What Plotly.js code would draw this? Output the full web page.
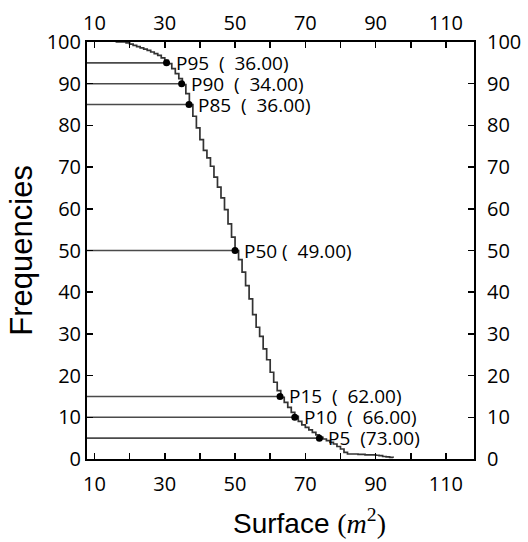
<!DOCTYPE html>
<html>
<head>
<meta charset="utf-8">
<script src="https://cdn.plot.ly/plotly-3.0.1.min.js"></script>
<style>
  html, body { margin: 0; padding: 0; background: #ffffff; }
  #chart { width: 528px; height: 542px; }
</style>
</head>
<body>
<div id="chart"></div>
<script>
// Surface values (m^2) and exceedance frequencies (%)
const surface = [16,17,18,19,20,21,22,23,24,25,26,27,28,29,30,31,32,33,34,35,36,37,38,39,40,
  41,42,43,44,45,46,47,48,49,50,51,52,53,54,55,56,57,58,59,60,61,62,63,64,65,66,67,68,69,70,
  71,72,73,74,75,76,77,78,79,80,81,82,83,84,85,86,87,88,89,90,91,92,93,94,95];
const frequency = [100,100,100,99.8,99.5,99.2,98.9,98.6,98.3,98.0,97.6,97.2,96.8,96.2,95.6,94.8,93.6,92.4,91.2,89.8,87.6,85.0,82.2,79.4,76.6,
  74.0,72.2,70.2,67.6,65.2,62.6,59.8,56.4,53.2,50.0,47.8,44.8,41.6,38.4,34.6,31.6,29.4,26.4,23.8,20.8,18.4,16.4,14.8,13.6,12.4,11.2,10.2,9.0,8.2,7.6,
  7.0,6.4,5.8,5.2,4.8,4.4,4.0,3.6,3.0,2.4,1.6,1.2,1.2,1.2,1.1,1.1,1.0,1.0,1.0,0.9,0.8,0.6,0.5,0.4,0.3];

// Percentile points (position on the curve) and their printed labels
const pctX = [30.5, 34.8, 36.9, 50.0, 62.8, 67.0, 74.0];
const pctY = [95, 90, 85, 50, 15, 10, 5];
const pctLabels = ["P95  (  36.00)", "P90  (  34.00)", "P85  (  36.00)", "P50 (  49.00)",
                   "P15  (  62.00)", "P10  (  66.00)", "P5  (73.00)"];

// Axis ticks
const xTickVals = [10,20,30,40,50,60,70,80,90,100,110];
const xTickText = ["10","","30","","50","","70","","90","","110"];
const yTickVals = [0,10,20,30,40,50,60,70,80,90,100];
const yTickText = ["0","10","20","30","40","50","60","70","80","90","100"];

const xRange = [7.87, 118];
const yRange = [0, 100];

const nb = s => s.replace(/ /g, "\u00A0");

// horizontal guide lines from left frame to each percentile point
const hx = [], hy = [];
pctX.forEach((x, i) => { hx.push(xRange[0], x, null); hy.push(pctY[i], pctY[i], null); });

const traces = [
  { x: hx, y: hy, mode: "lines", line: { color: "#4a4a4a", width: 1.6 },
    hoverinfo: "skip", showlegend: false, cliponaxis: false },
  { x: surface, y: frequency, mode: "lines", line: { color: "#333333", width: 1.7, shape: "hv" },
    showlegend: false },
  { x: pctX, y: pctY, mode: "markers", marker: { color: "#000000", size: 7 }, showlegend: false },
  { x: [xTickVals[0]], y: [yTickVals[0]], xaxis: "x2", yaxis: "y2", mode: "markers",
    marker: { opacity: 0 }, hoverinfo: "skip", showlegend: false }
];

const tickFont = { family: "Open Sans, sans-serif", size: 20, color: "#000000" };

const annotations = pctLabels.map((t, i) => ({
  x: pctX[i], y: pctY[i], xref: "x", yref: "y", text: nb(t), showarrow: false,
  xanchor: "left", yanchor: "middle", xshift: 7, yshift: 0,
  font: { family: "Open Sans, sans-serif", size: 19, color: "#000000" }
}));
annotations.push({
  xref: "paper", yref: "paper", x: -0.17, y: 0.5, text: "Frequencies", textangle: -90,
  showarrow: false, xanchor: "center", yanchor: "middle",
  font: { family: "Liberation Sans, Arial, sans-serif", size: 31, color: "#000000" }
});
annotations.push({
  xref: "paper", yref: "paper", x: 0.576, y: -0.151,
  text: 'Surface <span style="font-family:Liberation Serif, serif">(<i>m</i><sup>2</sup>)</span>',
  showarrow: false, xanchor: "center", yanchor: "middle",
  font: { family: "Liberation Sans, Arial, sans-serif", size: 28, color: "#000000" }
});

const layout = {
  width: 528, height: 542,
  margin: { l: 87, r: 54, t: 42, b: 83, pad: 0 },
  paper_bgcolor: "#ffffff", plot_bgcolor: "#ffffff",
  showlegend: false,
  xaxis: {
    range: xRange, tickmode: "array", tickvals: xTickVals, ticktext: xTickText,
    ticks: "inside", ticklen: 6, tickwidth: 1.5, tickcolor: "#000000",
    showline: true, linewidth: 2, linecolor: "#000000", mirror: "ticks",
    showgrid: false, zeroline: false, tickfont: tickFont, ticklabelstandoff: 6
  },
  xaxis2: {
    range: xRange, overlaying: "x", side: "top", anchor: "y2", tickmode: "array",
    tickvals: xTickVals, ticktext: xTickText, ticks: "", showline: false,
    showgrid: false, zeroline: false, tickfont: tickFont, ticklabelstandoff: 7
  },
  yaxis: {
    range: yRange, tickmode: "array", tickvals: yTickVals, ticktext: yTickText,
    ticks: "inside", ticklen: 6, tickwidth: 1.5, tickcolor: "#000000",
    showline: true, linewidth: 2, linecolor: "#000000", mirror: "ticks",
    showgrid: false, zeroline: false, tickfont: tickFont, ticklabelstandoff: 0
  },
  yaxis2: {
    range: yRange, overlaying: "y", side: "right", anchor: "x2", tickmode: "array",
    tickvals: yTickVals, ticktext: yTickText, ticks: "", showline: false,
    showgrid: false, zeroline: false, tickfont: tickFont, ticklabelstandoff: 12
  },
  annotations: annotations
};

Plotly.newPlot("chart", traces, layout, { staticPlot: true, displayModeBar: false });
</script>
</body>
</html>
